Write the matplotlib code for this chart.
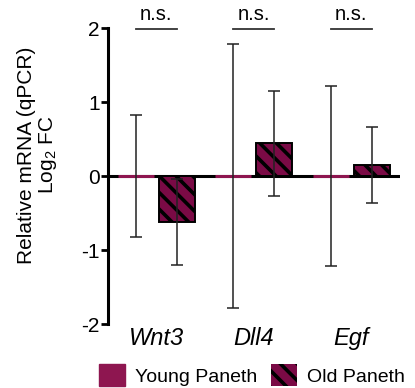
import matplotlib
matplotlib.use("Agg")
import matplotlib.pyplot as plt
from matplotlib.patches import Patch
import numpy as np

plt.rcParams['font.family'] = ['Liberation Sans', 'DejaVu Sans']
plt.rcParams['mathtext.default'] = 'regular'
plt.rcParams['hatch.linewidth'] = 2.6

genes = ["Wnt3", "Dll4", "Egf"]
young_mean = [0.0, 0.0, 0.0]
young_err = [0.83, 1.78, 1.21]
old_mean = [-0.62, 0.44, 0.15]
old_err = [0.58, 0.71, 0.51]
sig_labels = ["n.s.", "n.s.", "n.s."]
series_names = ["Young Paneth", "Old Paneth"]

young_color = "#8E1650"
old_color = "#7A0A45"
hatch_pat = "\\\\"

fig = plt.figure(figsize=(4.15, 3.88), dpi=100)
ax = fig.add_axes([108/415, 1-324/388, 292/415, 296/388])

x = np.arange(len(genes))
off = 0.21
w = 0.37

ax.axhline(0, color='black', lw=2.2, zorder=2)
ax.bar(x - off, young_mean, w, color=young_color, edgecolor=young_color, lw=2.2, zorder=3)
ax.bar(x + off, old_mean, w, color=old_color, edgecolor='black', lw=1.4, hatch=hatch_pat, zorder=3)
ax.errorbar(x - off, young_mean, yerr=young_err, fmt='none', ecolor='#222222', elinewidth=1.1, capsize=4, capthick=1.1, zorder=4)
ax.errorbar(x + off, old_mean, yerr=old_err, fmt='none', ecolor='#222222', elinewidth=1.1, capsize=4, capthick=1.1, zorder=4)

for i, s in enumerate(sig_labels):
    ax.plot([i - off, i + off], [1.98, 1.98], color='#333333', lw=1.3, clip_on=False)
    ax.text(i, 2.06, s, ha='center', va='bottom', fontsize=14.5, clip_on=False)

ax.set_xlim(-0.495, 2.5)
ax.set_ylim(-2, 2)
ax.set_yticks([-2, -1, 0, 1, 2])
ax.set_yticklabels(["-2", "-1", "0", "1", "2"], fontsize=15)
ax.set_xticks(x)
ax.set_xticklabels(genes, fontsize=17, style='italic')
ax.tick_params(axis='x', length=0, pad=2)
ax.tick_params(axis='y', length=5, width=2, pad=1)
for sp in ['top', 'right', 'bottom']:
    ax.spines[sp].set_visible(False)
ax.spines['left'].set_linewidth(2.2)

ax.set_ylabel("Relative mRNA (qPCR)\nLog$_2$ FC", fontsize=15, va='center', linespacing=1.05)
ax.yaxis.set_label_coords((38-108)/292, (324-155)/296)

handles = [Patch(facecolor=young_color, edgecolor=young_color, label=series_names[0]),
           Patch(facecolor=old_color, edgecolor='black', linewidth=0, hatch=hatch_pat, label=series_names[1])]
fig.legend(handles=handles, loc='center', bbox_to_anchor=(252/415, 1-375/388), ncol=2,
           frameon=False, fontsize=14, handlelength=1.35, handleheight=1.3,
           handletextpad=0.5, columnspacing=0.7, borderpad=0, borderaxespad=0)

fig.savefig("out.png", dpi=100)
